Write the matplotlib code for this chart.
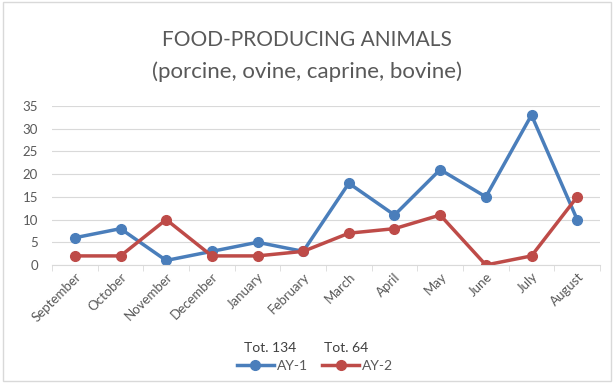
import matplotlib
matplotlib.use("Agg")
import matplotlib.pyplot as plt
from matplotlib.patches import Rectangle

months = ["September", "October", "November", "December", "January", "February",
          "March", "April", "May", "June", "July", "August"]
ay1 = [6, 8, 1, 3, 5, 3, 18, 11, 21, 15, 33, 10]
ay2 = [2, 2, 10, 2, 2, 3, 7, 8, 11, 0, 2, 15]
series_names = ["AY-1", "AY-2"]
totals = ["Tot. 134", "Tot. 64"]
yticks = [0, 5, 10, 15, 20, 25, 30, 35]

plt.rcParams['font.family'] = ['Lato', 'DejaVu Sans']
grey = "#595959"
blue = "#4A7EBB"
red = "#BE4B48"

fig = plt.figure(figsize=(6.14, 3.83), dpi=100)
ax = fig.add_axes([52/614, 1 - 265/383, (600-52)/614, (265-106)/383])

x = list(range(len(months)))
l1, = ax.plot(x, ay1, color=blue, lw=2.5, marker='o', ms=7, label=series_names[0])
l2, = ax.plot(x, ay2, color=red, lw=2.5, marker='o', ms=7, label=series_names[1])

ax.set_xlim(-0.5, len(months) - 0.5)
ax.set_ylim(0, 35)
ax.set_yticks(yticks)
ax.set_xticks(x)
ax.set_xticklabels(months, rotation=45, ha='right', rotation_mode='anchor')
ax.grid(axis='y', color='#D9D9D9', lw=0.8)
ax.set_axisbelow(True)
for s in ['top', 'right', 'left']:
    ax.spines[s].set_visible(False)
ax.spines['bottom'].set_color('#D9D9D9')
ax.tick_params(axis='y', length=0, colors=grey, labelsize=9.5, pad=10)
ax.tick_params(axis='x', length=0, colors=grey, labelsize=9.5, pad=4)
ax.set_xticks([i - 0.5 for i in range(len(months) + 1)], minor=True)
ax.tick_params(axis='x', which='minor', length=4, color='#D9D9D9')

fig.text(0.5, 1 - 40/383, "FOOD-PRODUCING ANIMALS", ha='center', va='center',
         fontsize=15, color=grey)
fig.text(0.5, 1 - 72/383, "(porcine, ovine, caprine, bovine)", ha='center', va='center',
         fontsize=16, color=grey)

leg = fig.legend(handles=[l1, l2], loc='center', bbox_to_anchor=(315/614, 1 - 366/383),
                 ncol=2, frameon=False, fontsize=10, handlelength=2.7,
                 columnspacing=1.0, handletextpad=0.2, borderaxespad=0)
for t in leg.get_texts():
    t.set_color(grey)
fig.text(270/614, 1 - 348/383, totals[0], ha='center', va='center', fontsize=10, color='#404040')
fig.text(346/614, 1 - 348/383, totals[1], ha='center', va='center', fontsize=10, color='#404040')

fig.patches.append(Rectangle((3/614, 2/383), 608/614, 379/383, transform=fig.transFigure,
                             fill=False, edgecolor='#D9D9D9', lw=1))

fig.savefig("out.png", dpi=100)
